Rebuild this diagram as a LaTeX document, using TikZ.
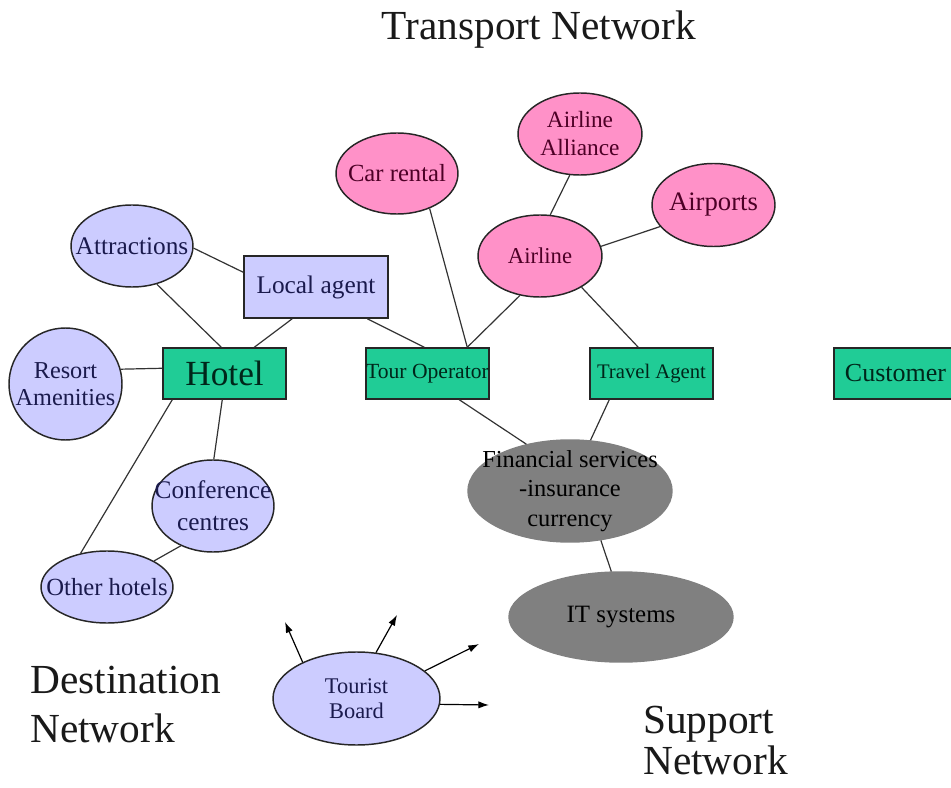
\documentclass[tikz,border=0pt]{standalone}
\usepackage{fontspec}
\setmainfont{Liberation Serif}
\usetikzlibrary{shapes.geometric,arrows.meta,calc}

\definecolor{lav}{HTML}{CCCCFF}
\definecolor{pinkfill}{HTML}{FF91C8}
\definecolor{greenfill}{HTML}{20CC96}
\definecolor{grayfill}{HTML}{808080}
\definecolor{navytext}{HTML}{1A1A4D}
\definecolor{maroontext}{HTML}{4D0026}
\definecolor{greentext}{HTML}{00261A}

\newcommand\fsz[2]{\fontsize{#1}{#2}\selectfont}

\tikzset{
  base/.style={draw=black!85, line width=1.1pt, inner sep=0pt, align=center},
  % ellipses keep their given size, whatever the width of the text
  fixedell/.style={base, ellipse, inner sep=-40pt},
  lavell/.style={fixedell, fill=lav, text=navytext},
  pinkell/.style={fixedell, fill=pinkfill, text=maroontext},
  grayell/.style={fixedell, fill=grayfill, draw=grayfill, text=black},
  greenbox/.style={base, rectangle, fill=greenfill, text=greentext,
    minimum width=123*0.75pt, minimum height=51*0.75pt},
  lavbox/.style={base, rectangle, fill=lav, text=navytext},
  link/.style={draw=black!80, line width=0.9pt},
  outarrow/.style={draw=black, line width=0.9pt, -{Latex[length=8pt,width=5.5pt]}},
  heading/.style={inner sep=0pt, font=\fsz{31}{36}, text=black!90, align=left},
  lbl/.style={font=\fsz{19}{21}},
}

\begin{document}
\begin{tikzpicture}[x=0.75pt, y=-0.75pt]
  \useasboundingbox (0,0) rectangle (951,788);
  \clip (0,0) rectangle (951,788);

  % headings
  \node[heading, anchor=base] (thead) at (539,40) {Transport Network};
  \node[heading, anchor=base west] (dhead1) at (30,693) {Destination};
  \node[heading, anchor=base west] (dhead2) at (30,742) {Network};
  \node[heading, anchor=base west] (shead1) at (643,733) {Support};
  \node[heading, anchor=base west] (shead2) at (643,774) {Network};

  % transport network
  \node[pinkell, minimum width=122*0.75pt, minimum height=81*0.75pt, font=\fsz{18.5}{21}] (car) at (397,173.5) {Car rental};
  \node[pinkell, minimum width=124*0.75pt, minimum height=82*0.75pt, font=\fsz{17.5}{21}] (alliance) at (580,134) {Airline\\Alliance};
  \node[pinkell, minimum width=123*0.75pt, minimum height=83*0.75pt, font=\fsz{20}{22}] (airports) at (713.5,205) {Airports};
  \node[pinkell, minimum width=124*0.75pt, minimum height=82*0.75pt, font=\fsz{17}{20}] (airline) at (540,256) {Airline};

  % destination network
  \node[lavell, lbl, minimum width=122*0.75pt, minimum height=82*0.75pt] (attr) at (132,246) {Attractions};
  \node[lavbox, lbl, minimum width=144*0.75pt, minimum height=62*0.75pt] (local) at (316,287) {Local agent};
  \node[lavell, minimum width=113*0.75pt, minimum height=112*0.75pt, font=\fsz{18.2}{20.5}] (resort) at (65.5,384) {Resort\\Amenities};
  \node[lavell, minimum width=122*0.75pt, minimum height=92*0.75pt, font=\fsz{19}{24}] (conf) at (213,506) {Conference\\centres};
  \node[lavell, minimum width=132*0.75pt, minimum height=72*0.75pt, font=\fsz{18.5}{21}] (other) at (107,587) {Other hotels};

  % chain boxes
  \node[greenbox, font=\fsz{26.5}{28}] (hotel) at (224.5,373.5) {Hotel};
  \node[greenbox, font=\fsz{16.2}{18}] (tour) at (427.5,373.5) {Tour Operator};
  \node[greenbox, font=\fsz{15.5}{18}] (travel) at (651.5,373.5) {Travel Agent};
  \node[greenbox, font=\fsz{19.5}{22}] (cust) at (895.5,373.5) {Customer};

  % support network
  \node[grayell, minimum width=204*0.75pt, minimum height=102*0.75pt, font=\fsz{18.3}{22}] (fin) at (570,491) {Financial services\\-insurance\\currency};
  \node[grayell, minimum width=224*0.75pt, minimum height=90*0.75pt, font=\fsz{18.7}{21}] (it) at (621,617) {IT systems};

  % tourist board
  \node[lavell, minimum width=167*0.75pt, minimum height=93*0.75pt, font=\fsz{16.8}{19}] (board) at (356.5,698.5) {Tourist\\Board};

  % connectors
  \draw[link] (attr.-2) -- ($(local.north west)+(0,17)$);
  \draw[link] (attr.-57) -- ($(hotel.north west)+(59,0)$);
  \draw[link] ($(local.south west)+(49,0)$) -- ($(hotel.north west)+(92,0)$);
  \draw[link] ($(local.south west)+(124,0)$) -- ($(tour.north west)+(59,0)$);
  \draw[link] (resort.15) -- ($(hotel.north west)+(0,21)$);
  \draw[link] ($(hotel.south west)+(60,0)$) -- (conf.89);
  \draw[link] ($(hotel.south west)+(10,0)$) -- (other.128);
  \draw[link] (conf.231) -- (other.29);
  \draw[link] (car.-47) -- ($(tour.north west)+(102,0)$);
  \draw[link] (airline.-117) -- ($(tour.north west)+(102,0)$);
  \draw[link] (airline.76) -- (alliance.-104);
  \draw[link] (airline.9) -- (airports.202);
  \draw[link] (airline.-37) -- ($(travel.north west)+(49,0)$);
  \draw[link] ($(tour.south west)+(94,0)$) -- (fin.133);
  \draw[link] ($(travel.south west)+(20,0)$) -- (fin.68);
  \draw[link] (fin.-58) -- (it.102);

  % outgoing arrows of the tourist board
  \coordinate (tb1) at (285,622);
  \coordinate (tb2) at (397,615);
  \coordinate (tb3) at (479,644);
  \coordinate (tb4) at (489,705);
  \draw[outarrow] (board.146) -- (tb1);
  \draw[outarrow] (board.67) -- (tb2);
  \draw[outarrow] (board.22) -- (tb3);
  \draw[outarrow] (board.-4.5) -- (tb4);
\end{tikzpicture}
\end{document}
